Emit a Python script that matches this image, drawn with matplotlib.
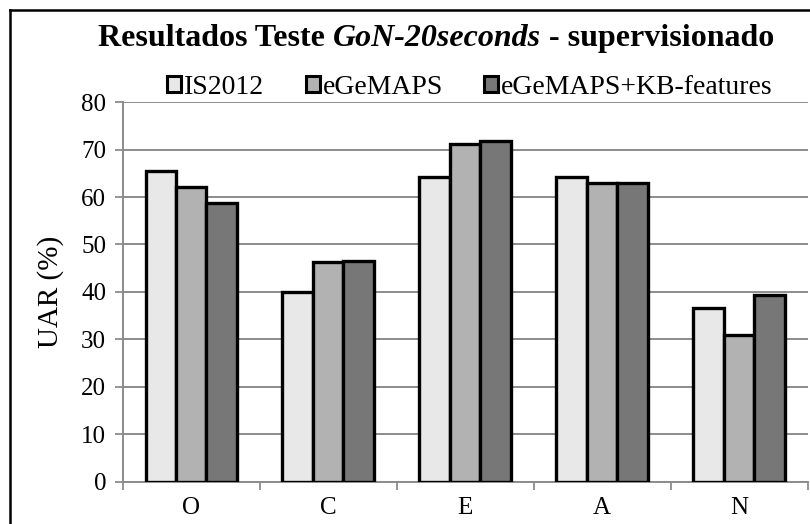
import numpy as np
import matplotlib.pyplot as plt
from matplotlib.patches import Patch
from matplotlib.lines import Line2D

# Data
categories = ['O', 'C', 'E', 'A', 'N']
series_names = ['IS2012', 'eGeMAPS', 'eGeMAPS+KB-features']
is2012 = [65.5, 40.0, 64.2, 64.3, 36.6]
egemaps = [62.1, 46.4, 71.1, 63.0, 31.0]
egemaps_kb = [58.7, 46.5, 71.8, 63.0, 39.4]
colors = ['#e8e8e8', '#b2b2b2', '#777777']
yticks = [0, 10, 20, 30, 40, 50, 60, 70, 80]

plt.rcParams['font.family'] = ['Liberation Serif', 'DejaVu Serif']
plt.rcParams['axes.unicode_minus'] = False

W, H = 810, 524
fig = plt.figure(figsize=(W / 100, H / 100), dpi=100)
ax = fig.add_axes([122.7 / W, 1 - 481.5 / H, 684.8 / W, 379.2 / H])

grid_col = '#8c8c8c'
x = np.arange(len(categories))
w = 1 / 4.5
for i, (vals, col) in enumerate(zip([is2012, egemaps, egemaps_kb], colors)):
    ax.bar(x + (i - 1) * w, vals, width=w, color=col, edgecolor='black',
           linewidth=2.4, zorder=3)

ax.set_xlim(-0.5, len(categories) - 0.5)
ax.set_ylim(0, 80)
ax.set_yticks(yticks)
ax.set_xticks(x)
ax.set_xticklabels(categories)
ax.set_xticks(np.arange(-0.5, len(categories), 1.0), minor=True)
ax.tick_params(axis='x', which='major', length=0, labelsize=18, pad=11)
ax.tick_params(axis='x', which='minor', length=6, width=1.3, color=grid_col)
ax.tick_params(axis='y', length=6, width=1.3, color=grid_col, labelsize=18, pad=6)
ax.yaxis.grid(True, color=grid_col, linewidth=1.4, zorder=0)
ax.set_axisbelow(True)
for s in ['top', 'right']:
    ax.spines[s].set_visible(False)
for s in ['left', 'bottom']:
    ax.spines[s].set_color(grid_col)
    ax.spines[s].set_linewidth(1.4)
ax.set_ylabel('UAR (%)', fontsize=21, labelpad=12)

# Legend
handles = [Patch(facecolor=c, edgecolor='black', linewidth=2.2) for c in colors]
fig.legend(handles, series_names, loc='center', bbox_to_anchor=(470 / W, 1 - 87 / H),
           ncol=3, frameon=False, fontsize=20, handlelength=0.5, handleheight=0.5,
           handletextpad=0.1, columnspacing=1.5, borderaxespad=0)

# Title with italic part
parts = [('Resultados Teste ', 'normal'), ('GoN-20seconds', 'italic'),
         (' - supervisionado', 'normal')]
texts = []
for s, style in parts:
    texts.append(fig.text(0, 1 - 46 / H, s, fontsize=23, fontweight='bold',
                          style=style, va='baseline', ha='left'))
fig.canvas.draw()
r = fig.canvas.get_renderer()
widths = [t.get_window_extent(r).width for t in texts]
xpos = (436 - sum(widths) / 2)
for t, wd in zip(texts, widths):
    t.set_x(xpos / W)
    xpos += wd

# Outer frame (left and top visible, rest cropped)
fig.add_artist(Line2D([10 / W, 10 / W], [0, 1 - 10 / H], color='black', linewidth=1.8))
fig.add_artist(Line2D([10 / W, 1], [1 - 10 / H, 1 - 10 / H], color='black', linewidth=1.8))

fig.savefig('out.png', dpi=100)
